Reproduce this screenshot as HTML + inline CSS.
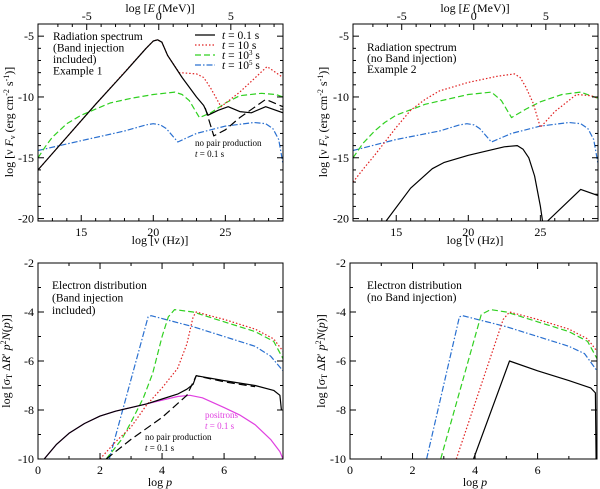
<!DOCTYPE html>
<html><head><meta charset="utf-8">
<style>
body{margin:0;background:#fff;}
svg{display:block;}
svg text{font-family:"Liberation Serif","Times New Roman",Times,serif;}
</style></head>
<body>
<svg id="fig" width="600" height="489" viewBox="0 0 600 489" xmlns="http://www.w3.org/2000/svg"></svg>
<script>
// ---- data (x, y pairs) ----
const tlBlack=[[12,-16],[14,-13.3],[16,-10.6],[18,-8],[19.5,-6],[20,-5.4],[20.3,-5.3],[20.6,-5.5],[21,-6.6],[22,-8.4],[23,-10],[23.5,-10.7],[23.8,-11.5],[24.5,-11.1],[25.2,-10.8],[26,-11.2],[26.8,-11.3],[27.8,-10.8],[29,-11.3]];
const tlBlackNoPair=[[23.6,-10.9],[24.2,-13.2],[25,-12.7],[26,-11.7],[27.8,-10.2],[29,-10.8]];
const tlRed=[[12,-16],[16,-10.6],[19.5,-6],[20,-5.4],[20.3,-5.3],[20.6,-5.5],[21,-6.6],[21.8,-8],[23,-8.1],[23.5,-8.4],[24,-9.3],[24.7,-10.8],[26,-9.6],[27.9,-7.5],[29,-8.4]];
const tlGreen=[[12,-15],[12.5,-14.1],[13,-13.3],[14,-12.2],[15,-11.5],[16,-11],[17,-10.5],[18.5,-10.1],[20,-9.8],[21.5,-9.6],[22,-9.8],[22.5,-10.3],[23.2,-11.7],[24,-11.3],[25,-10.5],[26,-9.9],[27.5,-9.7],[28.5,-9.8],[29,-10]];
const tlBlue=[[12,-14.4],[15,-13.6],[18,-12.8],[19.5,-12.3],[20,-12.2],[20.5,-12.3],[20.9,-12.6],[21.7,-13.7],[23,-13],[25,-12.4],[27,-12.1],[27.8,-12.2],[28.3,-12.6],[28.7,-13.5],[29,-15.5]];
const trRed=[[12,-17],[12.8,-15.8],[13.5,-14.8],[15,-12.5],[16,-11.1],[17,-10.2],[18,-9.5],[20,-8.8],[22,-8.3],[23.2,-8.1],[23.6,-8.4],[24,-9.2],[24.5,-10.5],[25,-12.5],[26,-11.2],[27.5,-9.8],[28.5,-9.9],[29,-10.1]];
const trGreen=[[12,-15],[12.7,-13.8],[13.5,-12.8],[14.2,-12.1],[15,-11.5],[17,-10.6],[20,-9.8],[21.6,-9.6],[22.3,-10.3],[23,-11.7],[24,-11],[25,-10.4],[26.5,-9.8],[27.8,-9.6],[29,-10.1]];
const trBlue=[[12,-14.4],[15,-13.5],[18,-12.8],[19.4,-12.3],[19.9,-12.2],[20.4,-12.3],[20.8,-12.6],[21.6,-13.7],[23,-13],[25,-12.4],[27,-12.1],[27.8,-12.2],[28.3,-12.6],[28.7,-13.5],[29,-15.5]];
const trBlackA=[[14.3,-20.2],[16,-17.5],[17.5,-15.9],[18.3,-15.4],[20,-14.8],[22.5,-14.1],[23.4,-14],[23.8,-14.3],[24.2,-15],[24.6,-16.5],[25,-19],[25.15,-20.2]];
const trBlackB=[[25.5,-20.2],[27.8,-17.6],[29,-18.1]];
const blMagenta=[[0.2,-10],[0.6,-9.4],[1,-8.95],[1.5,-8.55],[2,-8.25],[2.5,-8.05],[3,-7.9],[3.5,-7.75],[4,-7.6],[4.5,-7.45],[4.9,-7.4],[5.3,-7.5],[6,-7.9],[6.5,-8.2],[7,-8.6],[7.5,-9.2],[7.8,-9.7],[7.9,-10]];
const blBlack=[[0.2,-10],[0.6,-9.4],[1,-8.95],[1.5,-8.55],[2,-8.25],[2.5,-8.05],[3,-7.9],[3.5,-7.75],[4,-7.55],[4.5,-7.35],[4.8,-7.15],[5,-6.95],[5.1,-6.6],[6,-6.8],[7,-7],[7.6,-7.2],[7.8,-7.4],[7.85,-8]];
const blBlackNoPair=[[2.2,-10],[3,-9.2],[4,-8.3],[4.8,-7.4],[5.1,-6.6],[6,-6.85],[7,-7.05]];
const blRed=[[2,-10],[2.5,-9.3],[3,-8.7],[3.5,-7.8],[4,-7.1],[4.5,-6.3],[4.8,-5.3],[5,-4.2],[5.1,-4],[6,-4.3],[7,-4.7],[7.6,-5.1],[7.9,-5.6]];
const blGreen=[[2.2,-10],[2.7,-9.2],[3,-8.5],[3.4,-7.5],[3.7,-6.5],[4,-5],[4.2,-4.2],[4.4,-3.9],[5,-4],[6,-4.4],[7,-4.8],[7.6,-5.2],[7.9,-5.9]];
const blBlue=[[2.3,-10],[3.55,-4.2],[3.65,-4.15],[5,-4.6],[6,-5],[7,-5.4],[7.5,-5.8],[7.9,-6.4]];
const brBlue=[[2.45,-10],[3.5,-4.2],[3.6,-4.15],[5,-4.6],[6,-5],[7,-5.4],[7.5,-5.7],[7.9,-6.4]];
const brGreen=[[2.9,-10],[4.2,-4.1],[4.5,-3.9],[5,-4],[6,-4.4],[7,-4.8],[7.6,-5.2],[7.9,-5.9]];
const brRed=[[3.4,-10],[4.9,-4.3],[5.1,-4],[6,-4.3],[7,-4.7],[7.6,-5.1],[7.9,-5.6]];
const brBlack=[[3.95,-10],[5.1,-6],[6,-6.4],[7,-6.8],[7.7,-7.1],[7.85,-7.3],[7.87,-10]];
const nuTicks=[15,20,25];
const eTicks=[-5,0,5];
const specYTicks=[-5,-10,-15,-20];
const pTicks=[0,2,4,6];
const distYTicks=[-2,-4,-6,-8,-10];

const NS="http://www.w3.org/2000/svg";
const svg=document.getElementById('fig');
function mk(tag,attrs,parent){const e=document.createElementNS(NS,tag);for(const k in attrs)e.setAttribute(k,attrs[k]);if(tag==='text')e.style.fontFamily='"Liberation Serif","Times New Roman",serif';(parent||svg).appendChild(e);return e;}
const STY={
 black:{stroke:'#000',dash:''},
 blackDash:{stroke:'#000',dash:'8,4'},
 red:{stroke:'#e02020',dash:'1.5,2'},
 green:{stroke:'#30d020',dash:'6,3'},
 blue:{stroke:'#2a70d0',dash:'6,2,1.5,2'},
 magenta:{stroke:'#e040e0',dash:''}
};
function panel(name,box,xr,yr,xt,xminor,yt,yminor){
  const g=mk('g',{});
  
  
  const sx=v=>box.x0+(v-xr[0])/(xr[1]-xr[0])*(box.x1-box.x0);
  const sy=v=>box.y0+(yr[0]-v)/(yr[0]-yr[1])*(box.y1-box.y0);
  const cp=mk('clipPath',{id:'c'+name},g);
  mk('rect',{x:box.x0,y:box.y0,width:box.x1-box.x0,height:box.y1-box.y0},cp);
  const plot=mk('g',{'clip-path':'url(#c'+name+')'},g);
  const tg=mk('g',{stroke:'#000','stroke-width':1},g);
  for(let v=Math.ceil(xr[0]);v<=xr[1];v+=xminor){
    const maj=xt.includes(v);const L=maj?6:3;const x=sx(v);
    mk('line',{x1:x,x2:x,y1:box.y1,y2:box.y1-L},tg);
    if(!box.topE) mk('line',{x1:x,x2:x,y1:box.y0,y2:box.y0+L},tg);
  }
  for(let v=Math.ceil(yr[1]);v<=yr[0];v+=yminor){
    const maj=yt.includes(v);const L=maj?6:3;const y=sy(v);
    mk('line',{x1:box.x0,x2:box.x0+L,y1:y,y2:y},tg);
    mk('line',{x1:box.x1,x2:box.x1-L,y1:y,y2:y},tg);
  }
  xt.forEach(v=>{const t=mk('text',{x:sx(v),y:box.y1+15,'text-anchor':'middle','font-size':12},g);t.textContent=v;
    });
  yt.forEach(v=>{const t=mk('text',{x:box.x0-4,y:sy(v)+4,'text-anchor':'end','font-size':12},g);t.textContent=v;
    });
  if(box.topE){
    for(let e=-7;e<=9;e++){const x=sx(e+20.38);if(x<box.x0||x>box.x1)continue;const maj=eTicks.includes(e);
      mk('line',{x1:x,x2:x,y1:box.y0,y2:box.y0+(maj?6:3)},tg);}
    eTicks.forEach(e=>{const t=mk('text',{x:sx(e+20.38),y:box.y0-4,'text-anchor':'middle','font-size':12},g);t.textContent=e;
      });
  }
  mk('rect',{x:box.x0,y:box.y0,width:box.x1-box.x0,height:box.y1-box.y0,fill:'none',stroke:'#000','stroke-width':1},g);
  return {g,plot,sx,sy,
    line(data,sty,nm){const s=STY[sty];const p=mk('path',{d:data.map((d,i)=>(i?'L':'M')+sx(d[0]).toFixed(1)+','+sy(d[1]).toFixed(1)).join(''),fill:'none',stroke:s.stroke,'stroke-width':1.2,'stroke-dasharray':s.dash,'stroke-linejoin':'round'},plot);
      }};
}
function txt(x,y,s,size,extra){const t=mk('text',Object.assign({x:x,y:y,'font-size':size},extra||{}));t.innerHTML=s;
  return t;}

const tl=panel('spectrum-band-panel',{x0:38,x1:283,y0:24,y1:221,topE:true},[12,29],[-4,-20.2],nuTicks,1,specYTicks,1);
tl.line(tlBlue,'blue','series-t1e5');tl.line(tlGreen,'green','series-t1e3');tl.line(tlRed,'red','series-t10');
tl.line(tlBlackNoPair,'blackDash','series-no-pair');tl.line(tlBlack,'black','series-t0.1');
const tr=panel('spectrum-noband-panel',{x0:353,x1:598,y0:24,y1:221,topE:true},[12,29],[-4,-20.2],nuTicks,1,specYTicks,1);
tr.line(trBlue,'blue','series-t1e5');tr.line(trGreen,'green','series-t1e3');tr.line(trRed,'red','series-t10');
tr.line(trBlackA,'black','series-t0.1');tr.line(trBlackB,'black','series-t0.1-high');
const bl=panel('electron-band-panel',{x0:38,x1:283,y0:263,y1:459},[0,7.9],[-2,-10],pTicks,1,distYTicks,1);
bl.line(blMagenta,'magenta','series-positrons');bl.line(blBlue,'blue','series-t1e5');bl.line(blGreen,'green','series-t1e3');
bl.line(blRed,'red','series-t10');bl.line(blBlackNoPair,'blackDash','series-no-pair');bl.line(blBlack,'black','series-t0.1');
const br=panel('electron-noband-panel',{x0:350,x1:597,y0:263,y1:459},[0,7.9],[-2,-10],pTicks,1,distYTicks,1);
br.line(brBlue,'blue','series-t1e5');br.line(brGreen,'green','series-t1e3');br.line(brRed,'red','series-t10');br.line(brBlack,'black','series-t0.1');

txt(160,12,'log [<tspan font-style="italic">E</tspan> (MeV)]',12,{'text-anchor':'middle'});
txt(475,12,'log [<tspan font-style="italic">E</tspan> (MeV)]',12,{'text-anchor':'middle'});
txt(160,244,'log [ν (Hz)]',12,{'text-anchor':'middle'});
txt(475,244,'log [ν (Hz)]',12,{'text-anchor':'middle'});
txt(160,486,'log  <tspan font-style="italic">p</tspan>',12,{'text-anchor':'middle'});
txt(475,486,'log  <tspan font-style="italic">p</tspan>',12,{'text-anchor':'middle'});
const ylabS='log [ν <tspan font-style="italic">F</tspan><tspan font-size="8" dy="2">ν</tspan><tspan dy="-2"> (erg cm</tspan><tspan font-size="8" dy="-4">-2</tspan><tspan dy="4"> s</tspan><tspan font-size="8" dy="-4">-1</tspan><tspan dy="4">)]</tspan>';
txt(0,0,ylabS,12,{'text-anchor':'middle',transform:'translate(13,122) rotate(-90)'});
txt(0,0,ylabS,12,{'text-anchor':'middle',transform:'translate(327,122) rotate(-90)'});
const ylabD='log [σ<tspan font-size="8" dy="2">T</tspan><tspan dy="-2"> Δ</tspan><tspan font-style="italic">R</tspan>′ <tspan font-style="italic">p</tspan><tspan font-size="8" dy="-4">2</tspan><tspan dy="4" font-style="italic">N</tspan>(<tspan font-style="italic">p</tspan>)]';
txt(0,0,ylabD,12,{'text-anchor':'middle',transform:'translate(10,361) rotate(-90)'});
txt(0,0,ylabD,12,{'text-anchor':'middle',transform:'translate(325,361) rotate(-90)'});

['Radiation spectrum','(Band injection','included)','Example 1'].forEach((s,i)=>txt(53,40+i*11.5,s,11.5));
['Radiation spectrum','(no Band injection)','Example 2'].forEach((s,i)=>txt(367,51+i*11,s,11.5));
['Electron distribution','(Band injection','included)'].forEach((s,i)=>txt(52,289+i*12.5,s,11.5));
['Electron distribution','(no Band injection)'].forEach((s,i)=>txt(367,289+i*12,s,11.5));
txt(195,146,'no pair production',9);txt(195,157,'<tspan font-style="italic">t</tspan> = 0.1 s',9);
txt(145,440,'no pair production',9);txt(145,451,'<tspan font-style="italic">t</tspan> = 0.1 s',9);
txt(205,418,'positrons',9,{fill:'#e040e0'});txt(205,429,'<tspan font-style="italic">t</tspan> = 0.1 s',9,{fill:'#e040e0'});

const leg=[['black','0.1 s'],['red','10 s'],['green','10<tspan font-size="7" dy="-4">3</tspan><tspan dy="4"> s</tspan>'],['blue','10<tspan font-size="7" dy="-4">5</tspan><tspan dy="4"> s</tspan>']];
leg.forEach((l,i)=>{const y=35+i*10;const s=STY[l[0]];
  const ln=mk('line',{x1:195,x2:215,y1:y,y2:y,stroke:s.stroke,'stroke-width':1.2,'stroke-dasharray':s.dash});
  
  txt(222,y+4,'<tspan font-style="italic">t</tspan> = '+l[1],11.5);});
</script>
</body></html>
